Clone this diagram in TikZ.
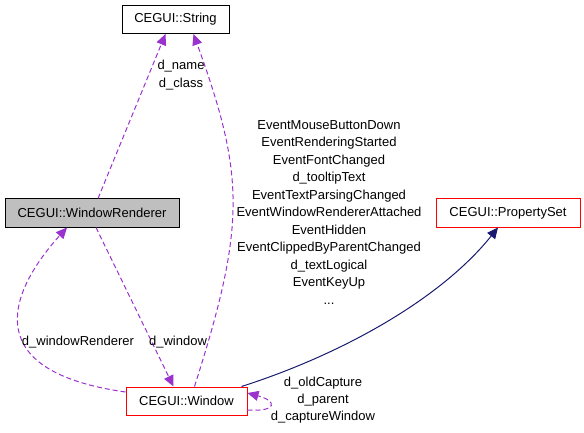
\documentclass[tikz,border=0pt]{standalone}
\usepackage{fontspec}
\setmainfont{Liberation Sans}
\usetikzlibrary{arrows.meta}
\definecolor{edgepurple}{HTML}{9A32CD}
\definecolor{edgenavy}{HTML}{191970}
\definecolor{boxgray}{HTML}{BFBFBF}
\begin{document}
\begin{tikzpicture}[x=1pt,y=-1pt]
      \useasboundingbox (0,0) rectangle (584,433);
      \tikzstyle{every node} = [font=\fontsize{13}{17.5}\selectfont, inner sep=0pt]
      \tikzstyle{classbox} = [draw, line width=1pt, minimum height=28pt]
      \tikzstyle{member} = [draw=edgepurple, line width=1pt, dash pattern=on 5pt off 3pt,
        -{Triangle[length=11pt,width=10pt]}]
      \tikzstyle{inherit} = [draw=edgenavy, line width=1pt,
        -{Triangle[length=11pt,width=10pt]}]
      \node[classbox, minimum width=107pt] (string) at (175.5,19.5) {CEGUI::String};
      \node[classbox, fill=boxgray, minimum width=174pt] (renderer) at (92,213) {CEGUI::WindowRenderer};
      \node[classbox, draw=red, minimum width=121pt] (window) at (186.5,401) {CEGUI::Window};
      \node[classbox, draw=red, minimum width=144pt] (propset) at (508,213) {CEGUI::PropertySet};
      \draw[member] ([xshift=6pt]renderer.north) -- ([xshift=-10pt]string.south);
      \draw[member] ([xshift=4pt]renderer.south) -- ([xshift=-13pt]window.north);
      \draw[member] ([xshift=8pt]window.north) .. controls (246,225) and (245,176) .. ([xshift=18pt]string.south);
      \draw[member] ([yshift=9pt]window.west) .. controls (-30,370) and (15,285) .. ([xshift=-25pt]renderer.south);
      \draw[member] ([yshift=-9pt]window.east) .. controls +(30,2) and +(30,8) .. ([yshift=8pt]window.east);
      \draw[inherit] ([xshift=55pt]window.north) .. controls (340,355) and (440,300) .. ([xshift=-10pt]propset.south);
      \node[align=center] (namelabel) at (181,75) {d\_name\\d\_class};
      \node[align=center] (eventlabel) at (329,212.5) {EventMouseButtonDown\\EventRenderingStarted\\EventFontChanged\\d\_tooltipText\\EventTextParsingChanged\\EventWindowRendererAttached\\EventHidden\\EventClippedByParentChanged\\d\_textLogical\\EventKeyUp\\...};
      \node (windowlabel) at (178,342) {d\_window};
      \node (rendererlabel) at (78,342) {d\_windowRenderer};
      \node[align=center, font=\fontsize{13}{17}\selectfont] (selflabel) at (323,400) {d\_oldCapture\\d\_parent\\d\_captureWindow};
    \end{tikzpicture}
\end{document}
